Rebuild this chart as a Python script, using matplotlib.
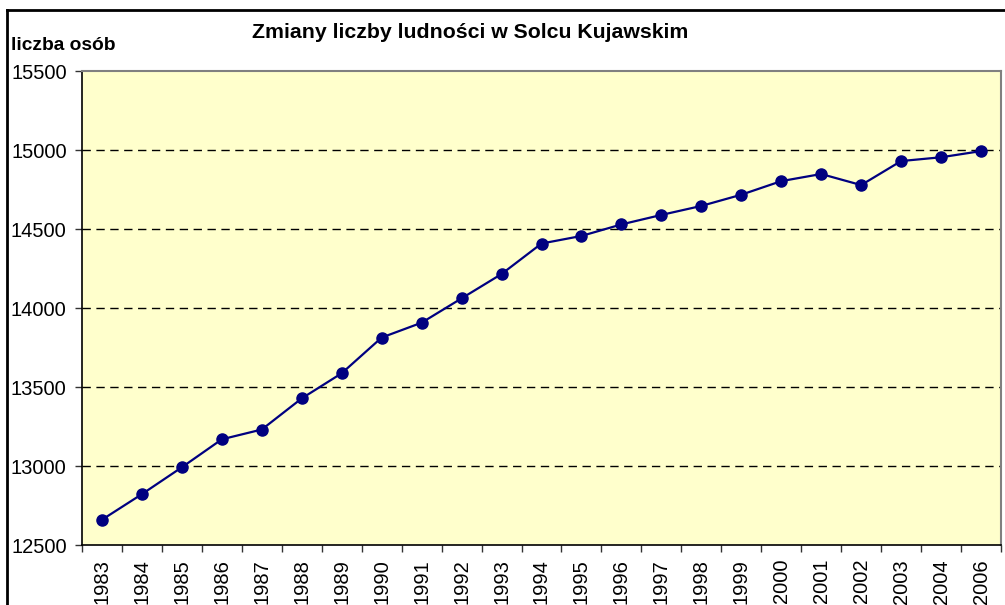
import numpy as np
import matplotlib.pyplot as plt
from matplotlib.lines import Line2D

plt.rcParams['font.family'] = ['Liberation Sans', 'DejaVu Sans']

lata = ['1983', '1984', '1985', '1986', '1987', '1988', '1989', '1990',
        '1991', '1992', '1993', '1994', '1995', '1996', '1997', '1998',
        '1999', '2000', '2001', '2002', '2003', '2004', '2006']
ludnosc = [12660, 12822, 12992, 13169, 13231, 13428, 13587, 13813,
           13907, 14061, 14215, 14408, 14456, 14529, 14589, 14646,
           14717, 14803, 14848, 14778, 14930, 14954, 14993]
y_ticks = [12500, 13000, 13500, 14000, 14500, 15000, 15500]

W, H = 1005, 605
fig = plt.figure(figsize=(W / 100, H / 100), dpi=100)
ax = fig.add_axes([82 / W, 1 - 545 / H, 919 / W, 474 / H])
ax.set_facecolor('#FFFFCC')

x = np.arange(len(lata))
ax.plot(x, ludnosc, color='#000080', lw=1.6, marker='o', ms=8,
        markerfacecolor='#000080', markeredgecolor='#000080', zorder=3)

ax.set_xlim(-0.5, len(lata) - 0.5)
ax.set_ylim(12500, 15500)
ax.set_yticks(y_ticks)
ax.set_yticklabels([str(v) for v in y_ticks], fontsize=14.5)

# etykiety w środku kategorii, kreski na granicach
ax.set_xticks(np.arange(len(lata) + 1) - 0.5)
ax.set_xticklabels([])
ax.set_xticks(x, minor=True)
ax.set_xticklabels(lata, minor=True, rotation=90, fontsize=14.5)
ax.tick_params(axis='x', which='major', length=5, width=1, color='#333333', direction='out')
ax.tick_params(axis='x', which='minor', length=0, pad=10)
ax.tick_params(axis='y', length=5, width=1, color='#333333', pad=6)

for v in y_ticks[1:-1]:
    ax.axhline(v, color='black', lw=1, ls=(0, (6, 4)), zorder=1)

ax.spines['left'].set_color('black')
ax.spines['bottom'].set_color('black')
ax.spines['left'].set_linewidth(1.2)
ax.spines['bottom'].set_linewidth(1.2)
ax.spines['top'].set_color('#808080')
ax.spines['right'].set_color('#808080')
ax.spines['top'].set_linewidth(1.5)
ax.spines['right'].set_linewidth(1.5)

fig.text(470 / W, 1 - 32 / H, 'Zmiany liczby ludności w Solcu Kujawskim',
         ha='center', va='center', fontsize=15.3, fontweight='bold')
fig.text(11 / W, 1 - 45 / H, 'liczba osób', ha='left', va='center',
         fontsize=13.8, fontweight='bold')

# ramka wykresu
fig.add_artist(Line2D([7 / W, 1], [1 - 10 / H, 1 - 10 / H], color='black', lw=2,
                      transform=fig.transFigure))
fig.add_artist(Line2D([7 / W, 7 / W], [0, 1 - 10 / H], color='black', lw=2,
                      transform=fig.transFigure))

fig.savefig('out.png', dpi=100)
